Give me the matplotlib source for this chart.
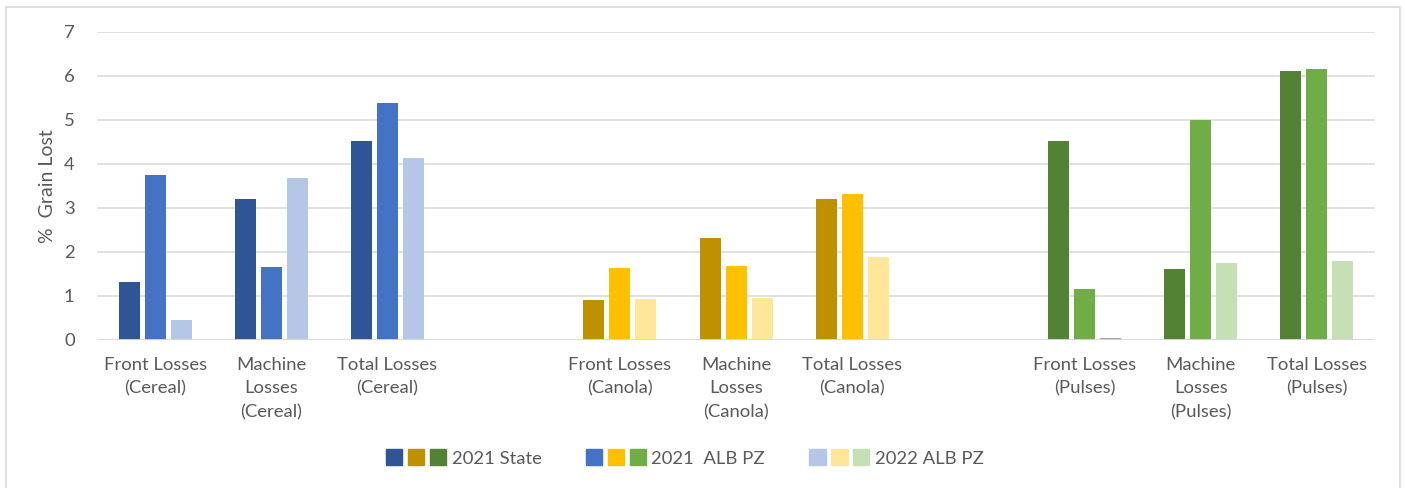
import matplotlib.pyplot as plt
from matplotlib.patches import Patch, Rectangle
from matplotlib.legend_handler import HandlerTuple

plt.rcParams["font.family"] = ["Lato", "DejaVu Sans"]

# chart data
crops = ["Cereal", "Canola", "Pulses"]
loss_types = ["Front Losses", "Machine\nLosses", "Total Losses"]
state_2021 = [1.31, 3.20, 4.52, 0.90, 2.31, 3.20, 4.52, 1.61, 6.11]
alb_2021 = [3.75, 1.65, 5.38, 1.63, 1.68, 3.31, 1.15, 5.01, 6.16]
alb_2022 = [0.45, 3.68, 4.13, 0.93, 0.96, 1.88, 0.05, 1.74, 1.79]
series_names = ["2021 State", "2021  ALB PZ", "2022 ALB PZ"]

# colours: one row per crop, dark / mid / light
crop_colors = {
    "Cereal": ["#2F5597", "#4472C4", "#B4C7E7"],
    "Canola": ["#BF9000", "#FFC000", "#FFE699"],
    "Pulses": ["#548235", "#70AD47", "#C5E0B4"],
}
text_color = "#595959"
grid_color = "#D9D9D9"
fs = 13.3


def main():
    fig = plt.figure(figsize=(14.05, 4.88), dpi=100)
    ax = fig.add_axes([97 / 1405, 148 / 488, 1278 / 1405, 308 / 488])

    slot = 1278 / 11  # pixels per category slot
    step = 26 / slot
    width = 21 / slot

    positions = []
    labels = []
    for g, crop in enumerate(crops):
        for k, lt in enumerate(loss_types):
            positions.append(g * 4 + k)
            labels.append(f"{lt}\n({crop})")

    for i, x in enumerate(positions):
        crop = crops[i // 3]
        cols = list(crop_colors[crop])
        if alb_2022[i] < 0.1:
            cols[2] = "#A5A5A5"
        vals = [state_2021[i], alb_2021[i], alb_2022[i]]
        for j, v in enumerate(vals):
            ax.bar(x + (j - 1) * step, v, width=width, color=cols[j], zorder=3)

    ax.set_xlim(-0.5, 10.5)
    ax.set_ylim(0, 7)
    ax.set_yticks(range(0, 8))
    ax.set_xticks(positions)
    ax.set_xticklabels(labels, linespacing=1.6)
    ax.tick_params(axis="both", length=0, labelsize=fs, colors=text_color)
    ax.tick_params(axis="x", pad=12)
    ax.tick_params(axis="y", pad=16)
    ax.yaxis.grid(True, color=grid_color, lw=1.1, zorder=0)
    for s in ax.spines.values():
        s.set_visible(False)
    ax.axhline(0, color=grid_color, lw=1.3, zorder=4)
    ax.set_ylabel("%  Grain Lost", fontsize=14, color=text_color, labelpad=6)

    # legend: three swatches per entry
    handles = []
    for j in range(3):
        handles.append(tuple(Patch(color=crop_colors[c][j]) for c in crops))
    leg = fig.legend(
        handles,
        series_names,
        handler_map={tuple: HandlerTuple(ndivide=None, pad=0.3)},
        loc="center",
        bbox_to_anchor=(685 / 1405, 1 - 458 / 488),
        ncol=3,
        frameon=False,
        fontsize=fs,
        handlelength=3.25,
        handleheight=0.95,
        handletextpad=0.3,
        columnspacing=2.4,
    )
    for t in leg.get_texts():
        t.set_color(text_color)

    # outer chart border
    fig.patches.append(
        Rectangle(
            (6 / 1405, -0.05),
            1394 / 1405,
            1.05 - 7 / 488,
            transform=fig.transFigure,
            fill=False,
            edgecolor=grid_color,
            lw=1.2,
        )
    )

    fig.savefig("out.png", dpi=100)


if __name__ == "__main__":
    main()
